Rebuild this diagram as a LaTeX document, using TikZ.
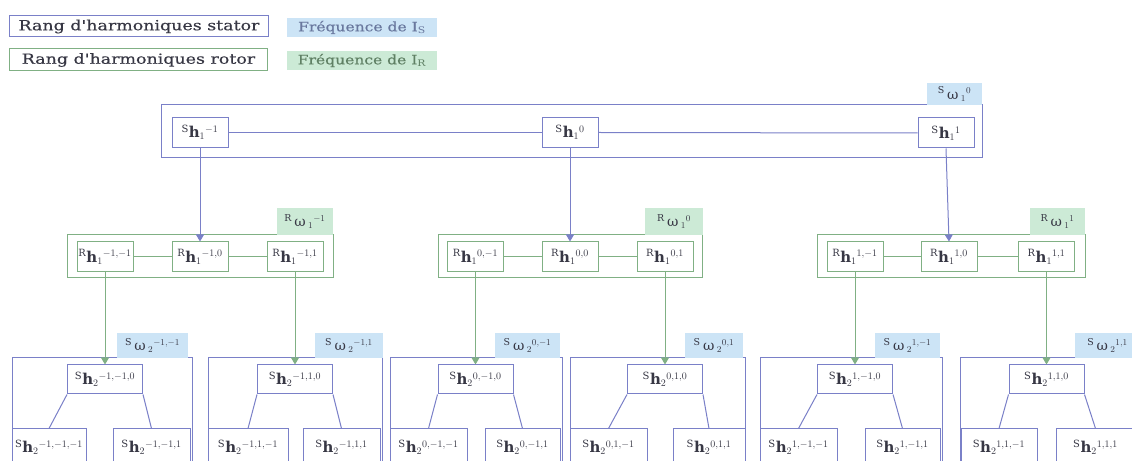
\documentclass[tikz,border=0pt]{standalone}
\usepackage{fontspec}
\usepackage{graphicx}
\setmainfont{DejaVu Serif}
\newfontfamily\legfam[FakeBold=0.3]{DejaVu Serif}
\usetikzlibrary{arrows.meta}
\DeclareMathSizes{15}{15}{10}{7.5}
\DeclareMathSizes{14}{14}{9.5}{7}
\definecolor{bline}{RGB}{122,128,200}
\definecolor{gline}{RGB}{128,176,132}
\definecolor{bfill}{RGB}{204,228,246}
\definecolor{gfill}{RGB}{204,234,214}
\definecolor{txt}{RGB}{55,55,68}
\definecolor{btxt}{RGB}{105,120,158}
\definecolor{gtxt}{RGB}{95,128,100}
\newcommand{\nodefont}{\fontsize{15}{17}\selectfont}
\newcommand{\labfont}{\fontsize{14}{16}\selectfont}
\newcommand{\legfont}{\legfam\fontsize{14}{16}\selectfont}
\newcommand{\freqfont}{\legfam\fontsize{13}{15}\selectfont}
\newcommand{\wide}[2]{\scalebox{#1}[1]{#2}}
\newcommand{\myhS}[2]{${}^{\mathrm{S}}\mathbf{h}_{#1}{}^{#2}$}
\newcommand{\myhR}[2]{${}^{\mathrm{R}}\mathbf{h}_{#1}{}^{#2}$}
\newcommand{\mywS}[2]{${}^{\mathrm{S}}\,\mbox{ω}\,{}_{#1}{}^{#2}$}
\newcommand{\mywR}[2]{${}^{\mathrm{R}}\,\mbox{ω}\,{}_{#1}{}^{#2}$}
\begin{document}
\begin{tikzpicture}[x=1bp,y=-1bp,
  lw/.style={line width=1bp},
  sbox/.style={draw=bline, lw, inner sep=0pt, text=txt, font=\nodefont},
  rbox/.style={draw=gline, lw, inner sep=0pt, text=txt, font=\nodefont},
  hsize/.style={minimum width=56bp, minimum height=30bp},
  bfreq/.style={fill=bfill, inner sep=0pt, text=txt, font=\labfont},
  gfreq/.style={fill=gfill, inner sep=0pt, text=txt, font=\labfont},
  bcon/.style={draw=bline, lw},
  gcon/.style={draw=gline, lw},
  barrow/.style={bcon, -{Triangle[length=7bp,width=8bp]}},
  garrow/.style={gcon, -{Triangle[length=7bp,width=8bp]}}]
\useasboundingbox (0,0) rectangle (1132,461);
\fill[white] (0,0) rectangle (1132,461);
\clip (0,0) rectangle (1132,461);

% legend
\node[draw=bline, lw, minimum width=258bp, minimum height=21bp, inner sep=0pt, text=txt, font=\legfont] (legS) at (139,26.5) {\wide{1.25}{Rang d'harmoniques stator}};
\node[fill=bfill, minimum width=150bp, minimum height=19bp, inner sep=0pt, text=btxt, font=\freqfont] (legIS) at (362,27.5) {\wide{1.2}{Fréquence de I$_{\mathrm{S}}$}};
\node[draw=gline, lw, minimum width=257bp, minimum height=22bp, inner sep=0pt, text=txt, font=\legfont] (legR) at (138.5,60) {\wide{1.25}{Rang d'harmoniques rotor}};
\node[fill=gfill, minimum width=150bp, minimum height=19bp, inner sep=0pt, text=gtxt, font=\freqfont] (legIR) at (362,60.5) {\wide{1.2}{Fréquence de I$_{\mathrm{R}}$}};

% top level
\node[sbox, minimum width=820bp, minimum height=53bp] (topbox) at (572,131.5) {};
\node[bfreq, minimum width=55bp, minimum height=22bp] (w1) at (954.5,94) {\mywS{1}{0}};
\node[sbox, hsize] (s1m) at (200,132.5) {\myhS{1}{-1}};
\node[sbox, hsize] (s10) at (570,132.5) {\myhS{1}{0}};
\node[sbox, hsize] (s11) at (946,133) {\myhS{1}{1}};
\draw[bcon] (s1m.east) -- (s10.west);
\draw[bcon] (s10.east) -- (s11.west);

% middle groups
\node[rbox, minimum width=265bp, minimum height=43bp] (gA) at (200.5,256.5) {};
\node[gfreq, minimum width=56bp, minimum height=27bp] (wA) at (305,221.5) {\mywR{1}{-1}};
\node[rbox, hsize] (rA1) at (105,257) {\myhR{1}{-1,-1}};
\node[rbox, hsize] (rA2) at (200,257) {\myhR{1}{-1,0}};
\node[rbox, hsize] (rA3) at (295,257) {\myhR{1}{-1,1}};

\node[rbox, minimum width=264bp, minimum height=43bp] (gB) at (570,256.5) {};
\node[gfreq, minimum width=58bp, minimum height=27bp] (wB) at (674,221.5) {\mywR{1}{0}};
\node[rbox, hsize] (rB1) at (475.5,257) {\myhR{1}{0,-1}};
\node[rbox, hsize] (rB2) at (570,257) {\myhR{1}{0,0}};
\node[rbox, hsize] (rB3) at (665,257) {\myhR{1}{0,1}};

\node[rbox, minimum width=268bp, minimum height=43bp] (gC) at (951,256.5) {};
\node[gfreq, minimum width=55bp, minimum height=27bp] (wC) at (1057.5,221.5) {\mywR{1}{1}};
\node[rbox, hsize] (rC1) at (855,257) {\myhR{1}{1,-1}};
\node[rbox, hsize] (rC2) at (949,257) {\myhR{1}{1,0}};
\node[rbox, hsize] (rC3) at (1046.5,257) {\myhR{1}{1,1}};

\foreach \g in {A,B,C}{
  \draw[gcon] (r\g1.east) -- (r\g2.west);
  \draw[gcon] (r\g2.east) -- (r\g3.west);
}
\draw[barrow] (s1m.south) -- (rA2.north);
\draw[barrow] (s10.south) -- (rB2.north);
\draw[barrow] (s11.south) -- (rC2.north);

% bottom level
\foreach \i/\bl/\br/\tc/\ll/\lr/\rl/\rr/\labl/\labr/\sup/\src in {
 1/12/192/105/12/86/113/190/117/188/{-1,-1}/rA1,
 2/208/382/295/208/288/303/380/315/383/{-1,1}/rA3,
 3/390/562/475.5/390/467/485/560/495/560/{0,-1}/rB1,
 4/570/745/665/570/647/673/745/685/743/{0,1}/rB3,
 5/760/942/855/760/837/865/940/875/940/{1,-1}/rC1,
 6/960/1140/1046.5/961/1037/1056/1135/1075/1140/{1,1}/rC3}
{
 \node[sbox, minimum width={(\br-\bl)*1bp}, minimum height=112bp] (bx\i) at ({(\bl+\br)/2},414) {};
 \node[bfreq, minimum width={(\labr-\labl)*1bp}, minimum height=25bp] (bw\i) at ({(\labl+\labr)/2},345.5) {\mywS{2}{\sup}};
 \node[sbox, minimum width=75bp, minimum height=29bp] (bt\i) at (\tc,379.5) {\myhS{2}{\sup,0}};
 \node[sbox, minimum width={(\lr-\ll)*1bp}, minimum height=36bp] (bl\i) at ({(\ll+\lr)/2},447) {\myhS{2}{\sup,-1}};
 \node[sbox, minimum width={(\rr-\rl)*1bp}, minimum height=36bp] (br\i) at ({(\rl+\rr)/2},447) {\myhS{2}{\sup,1}};
 \draw[bcon] (bt\i.south west) -- (bl\i.north);
 \draw[bcon] (bt\i.south east) -- (br\i.north);
 \draw[garrow] (\src.south) -- (bt\i.north);
}
\end{tikzpicture}
\end{document}
